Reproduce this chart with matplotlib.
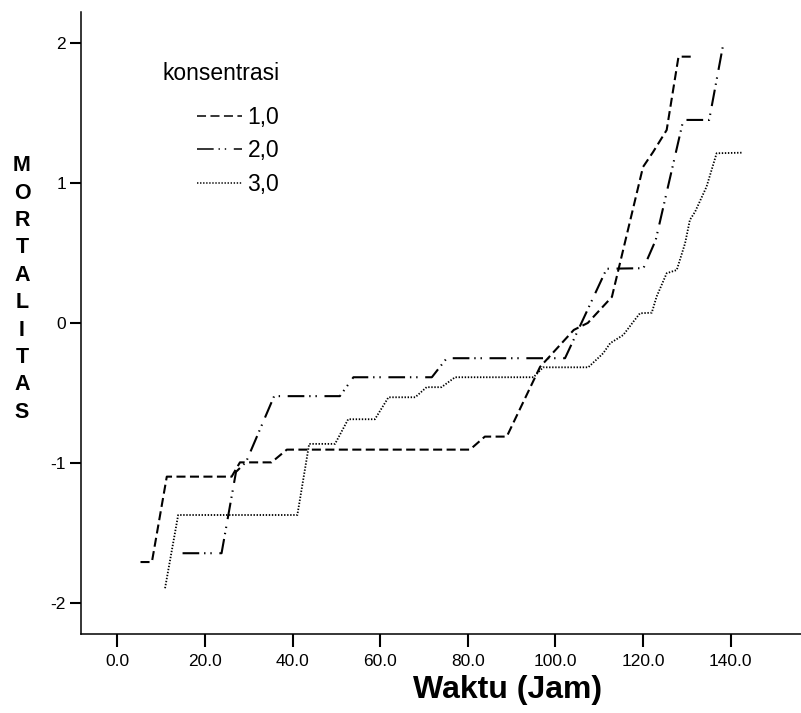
import matplotlib
matplotlib.use("Agg")
import matplotlib.pyplot as plt
from matplotlib.lines import Line2D

plt.rcParams['font.family'] = ['Liberation Sans', 'DejaVu Sans']
plt.rcParams['axes.unicode_minus'] = False
plt.rcParams['lines.scale_dashes'] = False

# ---- data ----
series_labels = ["1,0", "2,0", "3,0"]

waktu_10 = [5.3, 7.9, 11.3, 26.1, 28.0, 35.2, 38.7, 80.5, 83.9, 88.9, 96.5,
            104.2, 107.4, 112.9, 120.0, 122.3, 125.4, 128.1, 131.5]
mort_10 = [-1.71, -1.71, -1.10, -1.10, -0.998, -0.998, -0.907, -0.907, -0.814,
           -0.814, -0.316, -0.052, -0.002, 0.184, 1.112, 1.219, 1.376, 1.90, 1.90]

waktu_20 = [14.9, 23.8, 27.1, 29.4, 35.8, 50.8, 53.9, 71.8, 75.2, 102.2, 111.7,
            120.1, 122.9, 129.2, 135.1, 138.2]
mort_20 = [-1.647, -1.647, -1.066, -0.995, -0.525, -0.525, -0.39, -0.39, -0.254,
           -0.254, 0.385, 0.389, 0.59, 1.448, 1.448, 1.97]

waktu_30 = [10.9, 13.9, 41.1, 43.8, 49.7, 52.7, 58.8, 61.9, 68.0, 70.6, 74.0, 77.1,
            95.0, 97.2, 107.5, 110.9, 112.5, 115.5, 117.8, 119.3, 122.0, 123.1,
            125.4, 127.7, 129.6, 130.7, 131.9, 134.5, 136.8, 142.5]
mort_30 = [-1.897, -1.374, -1.374, -0.866, -0.866, -0.69, -0.69, -0.533, -0.533,
           -0.461, -0.461, -0.39, -0.39, -0.319, -0.319, -0.219, -0.147, -0.088,
           0.007, 0.067, 0.071, 0.186, 0.353, 0.376, 0.567, 0.734, 0.793, 0.971,
           1.21, 1.214]

x_ticks = [0, 20, 40, 60, 80, 100, 120, 140]
x_ticklabels = ["0.0", "20.0", "40.0", "60.0", "80.0", "100.0", "120.0", "140.0"]
y_ticks = [-2, -1, 0, 1, 2]
y_ticklabels = ["-2", "-1", "0", "1", "2"]

# ---- styles ----
styles = [
    dict(linestyle=(0, (6.5, 3.2)), linewidth=1.5),
    dict(linestyle=(0, (12, 3.5, 1, 3.5, 1, 5.5)), linewidth=1.5),
    dict(linestyle=(0, (1.0, 1.2)), linewidth=1.3),
]

fig = plt.figure(figsize=(8.01, 7.13), dpi=100)
ax = fig.add_axes([80.7 / 801, 79 / 713, 1 - 80.7 / 801, 622 / 713])

for xs, ys, st in zip([waktu_10, waktu_20, waktu_30], [mort_10, mort_20, mort_30], styles):
    ax.plot(xs, ys, color='black', dash_capstyle='butt', solid_capstyle='butt', **st)

ax.set_xlim(-8.35, 156.06)
ax.set_ylim(-2.224, 2.219)

ax.set_xticks(x_ticks)
ax.set_xticklabels(x_ticklabels)
ax.set_yticks(y_ticks)
ax.set_yticklabels(y_ticklabels)

ax.spines['top'].set_visible(False)
ax.spines['right'].set_visible(False)
ax.spines['left'].set_linewidth(1.1)
ax.spines['bottom'].set_linewidth(1.1)

ax.tick_params(axis='x', direction='out', length=9.4, width=1.5, pad=5, labelsize=12.5)
ax.tick_params(axis='y', direction='out', length=8, width=1.5, pad=2.5, labelsize=12.5)

# legend
handles = [Line2D([], [], color='black', linewidth=1.1, linestyle=st['linestyle'])
           for st in styles]
leg = ax.legend(handles, series_labels, loc='upper left',
                bbox_to_anchor=(197 / 801, 1 - 106 / 713), bbox_transform=fig.transFigure,
                frameon=False, fontsize=16.5, handlelength=1.95, handletextpad=0.25,
                labelspacing=0.45, borderpad=0, borderaxespad=0)
fig.text(163 / 801, 1 - 73 / 713, "konsentrasi", fontsize=16.5, ha='left', va='center')

# axis titles
fig.text(508 / 801, 1 - 690 / 713, "Waktu (Jam)", fontsize=23, fontweight='bold',
         ha='center', va='center')
fig.text(22 / 801, 1 - 289 / 713, "\n".join("MORTALITAS"), fontsize=15.5,
         fontweight='bold', ha='center', va='center', linespacing=1.4,
         multialignment='center')

fig.savefig("out.png", dpi=100)
